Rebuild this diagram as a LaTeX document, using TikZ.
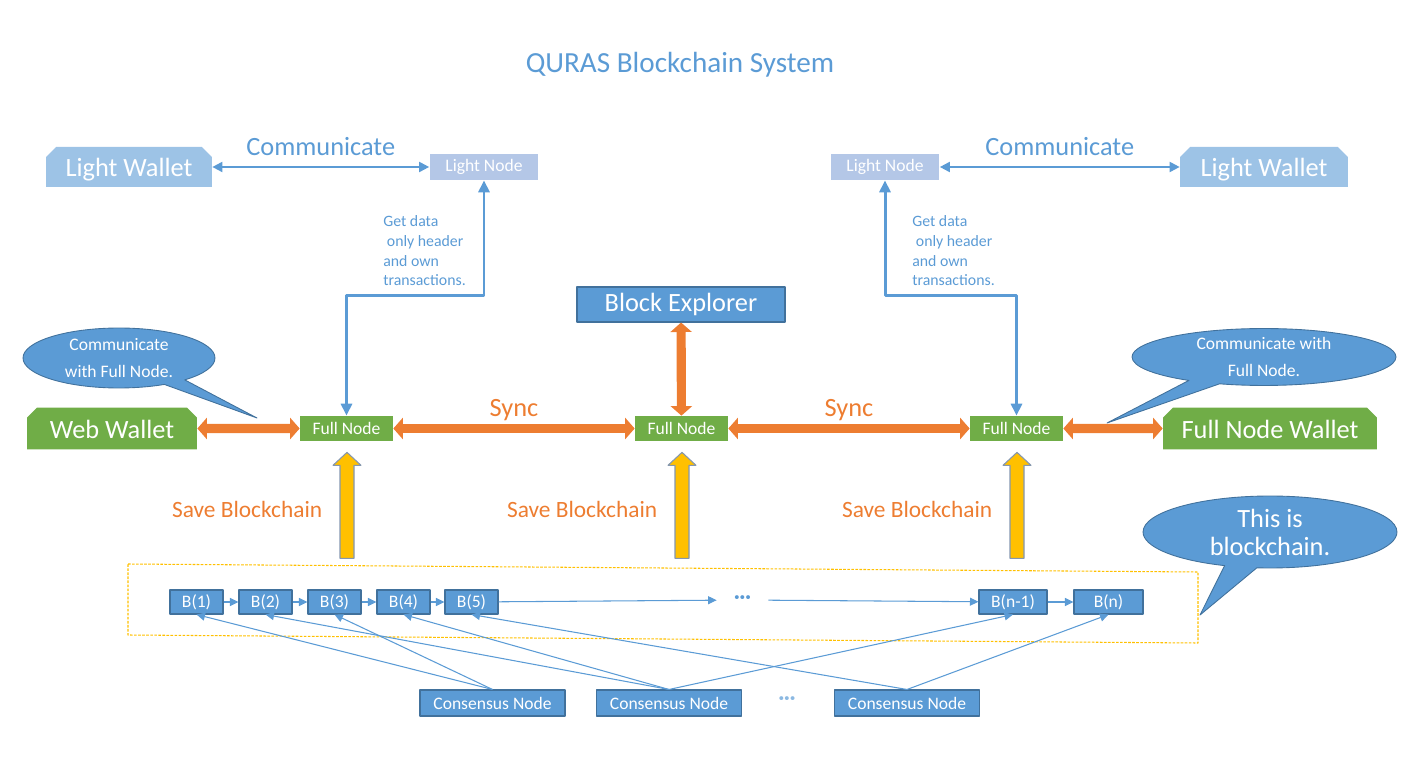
\documentclass[tikz,border=0pt]{standalone}
\usepackage{fontspec}
\setmainfont{Carlito}
\usetikzlibrary{arrows.meta,shapes.misc,shapes.callouts}
\definecolor{qblue}{RGB}{91,155,213}
\definecolor{qdark}{RGB}{65,113,156}
\definecolor{qwallet}{RGB}{157,195,230}
\definecolor{qlight}{RGB}{180,199,231}
\definecolor{qgreen}{RGB}{112,173,71}
\definecolor{qorange}{RGB}{237,125,49}
\definecolor{qyellow}{RGB}{255,192,0}
\definecolor{qgray}{RGB}{132,151,176}
\begin{document}
\begin{tikzpicture}[x=0.02cm, y=-0.02cm, line join=round,
	box/.style={fill=qblue, draw=qdark, line width=0.6pt, text=white, inner sep=0pt, font=\fontsize{10}{12}\selectfont},
	fullnode/.style={fill=qgreen, text=white, inner sep=0pt, minimum width=1.86cm, minimum height=0.5cm, font=\fontsize{10}{12}\selectfont},
	lightnode/.style={fill=qlight, text=white, inner sep=0pt, minimum width=2.18cm, minimum height=0.52cm, font=\fontsize{10}{12}\selectfont},
	wallet/.style={chamfered rectangle, chamfered rectangle corners={north west,north east}, chamfered rectangle xsep=0.1cm, chamfered rectangle ysep=0.1cm, text=white, inner sep=0pt, font=\fontsize{15}{18}\selectfont},
	bubble/.style={ellipse callout, fill=qblue, draw=qdark, line width=0.5pt, text=white, align=center, inner sep=0pt, font=\fontsize{10}{15.9}\selectfont},
	talk/.style={draw=qblue, line width=1.1pt, >={Triangle[length=0.2cm,width=0.2cm]}, <->},
	getdata/.style={draw=qblue, line width=1.7pt, >={Triangle[length=0.24cm,width=0.22cm]}, <->},
	sync/.style={draw=qorange, line width=5.2pt, >={Triangle[length=0.19cm,width=0.42cm]}, <->},
	link/.style={draw=qblue, line width=0.6pt, >={Triangle[length=0.17cm,width=0.16cm]}, ->},
	save/.style={fill=qyellow, draw=qgray, line width=0.6pt},
	talklabel/.style={above=0.2cm, inner sep=0pt, text=qblue, font=\fontsize{15}{18}\selectfont},
	synclabel/.style={above=0.06cm, inner sep=0pt, text=qorange, font=\fontsize{15}{18}\selectfont},
	getlabel/.style={anchor=north west, inner sep=0pt, align=left, text=qblue, font=\fontsize{9}{11.3}\selectfont},
	dotsnode/.style={inner sep=0pt, minimum width=1.02cm, text=qblue, font=\fontsize{12}{14}\selectfont\bfseries}]
	\useasboundingbox (0,0) rectangle (1417,773);
	%\draw[gray!30] (0,0) grid[step=50] (1417,773);
	\node[anchor=base, text=qblue, font=\fontsize{16.6}{20}\selectfont] (title) at (680,73) {QURAS Blockchain System};
	% light wallets
	\node[wallet, fill=qwallet, minimum width=3.32cm, minimum height=0.8cm, text height=0.5cm, text depth=0.1cm] (lw1) at (129,167) {Light Wallet};
	\node[lightnode] (ln1) at (484,167) {Light Node};
	\node[lightnode] (ln2) at (885,167) {Light Node};
	\node[wallet, fill=qwallet, minimum width=3.36cm, minimum height=0.8cm, text height=0.5cm, text depth=0.1cm] (lw2) at (1264,167) {Light Wallet};
	\draw[talk] (lw1) -- node[talklabel] (com1) {Communicate} (ln1);
	\draw[talk] (ln2) -- node[talklabel] (com2) {Communicate} (lw2);
	\node[getlabel] (gd1) at (383,215) {Get data\\~only header\\and own\\transactions.};
	\node[getlabel] (gd2) at (912,215) {Get data\\~only header\\and own\\transactions.};
	% full nodes
	\node[box, minimum width=4.16cm, minimum height=0.7cm, font=\fontsize{15}{18}\selectfont] (be) at (681,304.5) {Block Explorer};
	\node[wallet, fill=qgreen, minimum width=3.4cm, minimum height=0.84cm, text height=0.4cm] (ww) at (112,428.5) {Web Wallet};
	\node[fullnode] (fn1) at (346.5,428.5) {Full Node};
	\node[fullnode] (fn2) at (681.5,428.5) {Full Node};
	\node[fullnode] (fn3) at (1016.5,428.5) {Full Node};
	\node[wallet, fill=qgreen, minimum width=4.28cm, minimum height=0.84cm, text height=0.4cm] (fw) at (1270,428.5) {Full Node Wallet};
	\draw[getdata] (fn1.north) -- ++(0,-120) -| (ln1.south);
	\draw[getdata] (fn3.north) -- ++(0,-120) -| (ln2.south);
	\draw[sync] (ww) -- (fn1);
	\draw[sync] (fn1) -- node[synclabel] (sync1) {Sync} (fn2);
	\draw[sync] (fn2) -- node[synclabel] (sync2) {Sync} (fn3);
	\draw[sync] (fn3) -- (fw);
	\draw[sync] (be) -- (fn2);
	\foreach \n in {fn1,fn2,fn3}{
		\draw[save] ([shift={(-6.5,117)}]\n.south) -- ++(0,-93) -- ++(-7,0) -- ++(14,-13) -- ++(14,13) -- ++(-7,0) -- ++(0,93) -- cycle;
		\node[anchor=base east, inner sep=0pt, text=qorange, font=\fontsize{13.3}{16}\selectfont] (save\n) at ([shift={(-24,76.5)}]\n.south) {Save Blockchain};
	}
	% blockchain
	\draw[draw=qyellow, line width=0.6pt, dash pattern=on 1.5pt off 0.8pt] (128,564) -- (1198,572) -- (1198,643) -- (128,635) -- cycle;
	\foreach \i/\x in {1/196.5,2/265.5,3/334.5,4/403.5,5/471.5}
		\node[box, minimum width=1.06cm, minimum height=0.48cm] (b\i) at (\x,602) {B(\i)};
	\node[dotsnode] (bd) at (742.5,600) {···};
	\node[box, minimum width=1.36cm, minimum height=0.48cm] (bn1) at (1013,602) {B(n-1)};
	\node[box, minimum width=1.38cm, minimum height=0.48cm] (bn) at (1108.5,602) {B(n)};
	\foreach \a/\b in {b1/b2,b2/b3,b3/b4,b4/b5,b5/bd,bd/bn1,bn1/bn}
		\draw[link] (\a) -- (\b);
	\node[box, minimum width=2.9cm, minimum height=0.52cm] (c1) at (492.5,703) {Consensus Node};
	\node[box, minimum width=2.9cm, minimum height=0.52cm] (c2) at (669,703) {Consensus Node};
	\node[dotsnode, minimum width=0pt, text=qblue!70] (cd) at (787,701) {···};
	\node[box, minimum width=2.9cm, minimum height=0.52cm] (c3) at (907,703) {Consensus Node};
	\foreach \a/\b in {c1/b1,c1/b3,c2/b2,c2/b4,c2/bn1,c3/b5,c3/bn}
		\draw[link] (\a.north) -- (\b.south);
	% callouts
	\node[bubble, minimum width=3.84cm, minimum height=1.2cm, callout absolute pointer={(257,418)}] (cb1) at (119,358) {Communicate\\with Full Node.};
	\node[bubble, minimum width=5.28cm, minimum height=1.12cm, callout absolute pointer={(1107,423)}] (cb2) at (1264,357) {Communicate with\\Full Node.};
	\node[bubble, minimum width=5.08cm, minimum height=1.44cm, font=\fontsize{15}{15.9}\selectfont, callout absolute pointer={(1200,615)}] (cb3) at (1270,532) {This is\\blockchain.};
\end{tikzpicture}
\end{document}
